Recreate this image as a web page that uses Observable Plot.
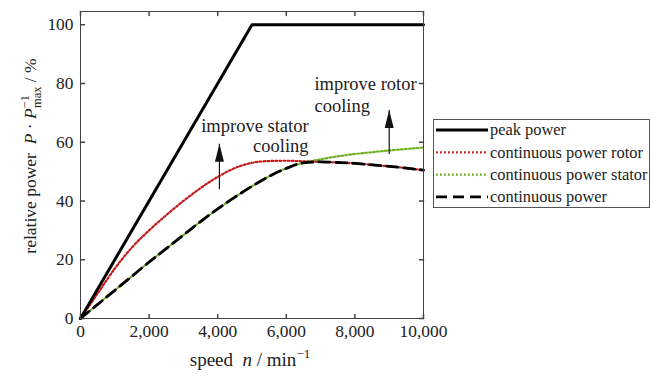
<!DOCTYPE html>
<html><head><meta charset="utf-8">
<script src="https://cdn.jsdelivr.net/npm/d3@7"></script>
<script src="https://cdn.jsdelivr.net/npm/@observablehq/plot@0.6"></script>
<style>
body{margin:0;background:#fff;}
#chart{width:653px;height:378px;}
</style></head><body><div id="chart"></div>
<script>
// ---- data ----
const speed          = [0, 500, 1000, 1500, 2000, 2500, 3000, 3500, 4000, 4500, 5000, 5500, 6000, 6500, 7000, 7500, 8000, 8500, 9000, 9500, 10000];
const rotorPower     = [0, 8.5, 17.0, 24.2, 30.0, 35.2, 40.0, 44.4, 48.2, 51.2, 53.0, 53.6, 53.7, 53.5, 53.3, 53.1, 52.8, 52.3, 51.8, 51.2, 50.5];
const statorPower    = [0, 4.8, 9.6, 14.4, 19.2, 23.8, 28.4, 33.0, 37.3, 41.3, 45.0, 48.4, 51.1, 53.0, 54.2, 55.2, 56.0, 56.6, 57.2, 57.7, 58.2];
const continuousPower= [0, 4.8, 9.6, 14.4, 19.2, 23.8, 28.4, 33.0, 37.3, 41.3, 45.0, 48.4, 51.1, 53.0, 53.3, 53.1, 52.8, 52.3, 51.8, 51.2, 50.5];
const peakSpeed = [0, 5000, 10000];
const peakPower = [0, 100, 100];
const xTicks = [0, 2000, 4000, 6000, 8000, 10000];
const yTicks = [0, 20, 40, 60, 80, 100];
const seriesNames = ["peak power", "continuous power rotor", "continuous power stator", "continuous power"];
const arrowSpeed = [4050, 9000];
const arrowFrom  = [44, 56];
const arrowTo    = [59.5, 71];
const statorNote = ["improve stator", "cooling"];
const statorNoteSpeed = [6650, 6650];
const statorNotePower = [63.4, 56.6];
const rotorNote = ["improve rotor", "cooling"];
const rotorNoteSpeed = [6820, 6820];
const rotorNotePower = [77.9, 70.2];

const FONT = "Liberation Serif, Times New Roman, serif";
const RED = "#c41a1a", GREEN = "#6eb020";
const DOT = "1.8,2.2";

const rows = speed.map((s, i) => ({s, rotor: rotorPower[i], stator: statorPower[i], cont: continuousPower[i]}));
const peak = peakSpeed.map((s, i) => ({s, p: peakPower[i]}));
const arrows = arrowSpeed.map((s, i) => ({s, a: arrowFrom[i], b: arrowTo[i]}));
const sNotes = statorNote.map((t, i) => ({t, s: statorNoteSpeed[i], p: statorNotePower[i]}));
const rNotes = rotorNote.map((t, i) => ({t, s: rotorNoteSpeed[i], p: rotorNotePower[i]}));

const tickShape = {draw(c, l) { c.moveTo(0, 0); c.lineTo(0, -l); }};
const headSymbol = {draw(c) { c.moveTo(0, 0); c.lineTo(-4.5, 18); c.lineTo(4.5, 18); c.closePath(); }};

const svg = Plot.plot({
  width: 653, height: 378,
  marginLeft: 80, marginRight: 230, marginTop: 11, marginBottom: 60,
  style: {fontFamily: FONT, fontSize: "17.4px", color: "#222", background: "#fff"},
  x: {domain: [0, 10000], label: null},
  y: {domain: [0, 104.5], label: null},
  marks: [
    Plot.axisX({ticks: xTicks, tickSize: 0, tickPadding: 6, tickFormat: d3.format(","), label: null}),
    Plot.axisY({ticks: yTicks, tickSize: 0, tickPadding: 7, label: null}),
    // inward ticks on all four sides
    Plot.vector(xTicks, {x: d => d, y: 0, length: 4, rotate: 0, anchor: "start", shape: tickShape, stroke: "#444"}),
    Plot.vector(xTicks, {x: d => d, y: 104.5, length: 4, rotate: 180, anchor: "start", shape: tickShape, stroke: "#444"}),
    Plot.vector(yTicks, {x: 0, y: d => d, length: 4, rotate: 90, anchor: "start", shape: tickShape, stroke: "#444"}),
    Plot.vector(yTicks, {x: 10000, y: d => d, length: 4, rotate: -90, anchor: "start", shape: tickShape, stroke: "#444"}),
    Plot.line(rows, {x: "s", y: "stator", curve: "monotone-x", stroke: GREEN, strokeWidth: 2.2, strokeDasharray: DOT}),
    Plot.line(rows, {x: "s", y: "rotor", curve: "monotone-x", stroke: RED, strokeWidth: 2.2, strokeDasharray: DOT}),
    Plot.line(rows, {x: "s", y: "cont", curve: "monotone-x", stroke: "#000", strokeWidth: 2.8, strokeDasharray: "11,6"}),
    Plot.line(peak, {x: "s", y: "p", stroke: "#000", strokeWidth: 3}),
    Plot.link(arrows, {x1: "s", x2: "s", y1: "a", y2: "b", stroke: "#111", strokeWidth: 1.2}),
    Plot.dot(arrows, {x: "s", y: "b", symbol: headSymbol, fill: "#111", stroke: "none"}),
    Plot.text(sNotes, {x: "s", y: "p", text: "t", textAnchor: "end", lineAnchor: "bottom", fontSize: 18.5, fill: "#222"}),
    Plot.text(rNotes, {x: "s", y: "p", text: "t", textAnchor: "start", lineAnchor: "bottom", fontSize: 18.5, fill: "#222"}),
    Plot.frame({stroke: "#444", strokeWidth: 1})
  ]
});
document.getElementById("chart").appendChild(svg);
const s = d3.select(svg);

// axis titles with math formatting
const xl = s.append("text").attr("x", 250).attr("y", 366).attr("text-anchor", "middle")
  .style("font-family", FONT).style("font-size", "19px").attr("fill", "#222");
xl.append("tspan").text("speed\u2002");
xl.append("tspan").attr("font-style", "italic").text("n");
xl.append("tspan").text(" / min");
xl.append("tspan").attr("font-size", "13px").attr("dy", -8).text("\u22121");

const yl = s.append("text").attr("transform", "translate(36,156) rotate(-90)").attr("text-anchor", "middle")
  .style("font-family", FONT).style("font-size", "17.5px").attr("fill", "#222");
yl.append("tspan").text("relative power\u2002");
yl.append("tspan").attr("font-style", "italic").text("P");
yl.append("tspan").text(" \u00b7 ");
yl.append("tspan").attr("font-style", "italic").text("P");
yl.append("tspan").attr("font-size", "12.5px").attr("dy", -7).text("\u22121");
yl.append("tspan").attr("font-size", "12.5px").attr("dx", -13).attr("dy", 12).text("max");
yl.append("tspan").attr("dy", -5).text(" / %");

// legend box
const lg = s.append("g").style("font-family", FONT).style("font-size", "16.4px").attr("text-anchor", "start");
lg.append("rect").attr("x", 433.5).attr("y", 119.5).attr("width", 216).attr("height", 88).attr("fill", "#fff").attr("stroke", "#555");
const styles = [
  {stroke: "#000", w: 3, dash: null},
  {stroke: RED, w: 2.2, dash: DOT},
  {stroke: GREEN, w: 2.2, dash: DOT},
  {stroke: "#000", w: 2.8, dash: "11,6"}
];
const rowY = [130, 152.3, 174.6, 196.9];
seriesNames.forEach((name, i) => {
  lg.append("line").attr("x1", 436).attr("x2", 488).attr("y1", rowY[i]).attr("y2", rowY[i])
    .attr("stroke", styles[i].stroke).attr("stroke-width", styles[i].w).attr("stroke-dasharray", styles[i].dash);
  lg.append("text").attr("x", 490).attr("y", rowY[i]).attr("dy", "0.32em").attr("text-anchor", "start").attr("fill", "#222").text(name);
});
</script></body></html>
